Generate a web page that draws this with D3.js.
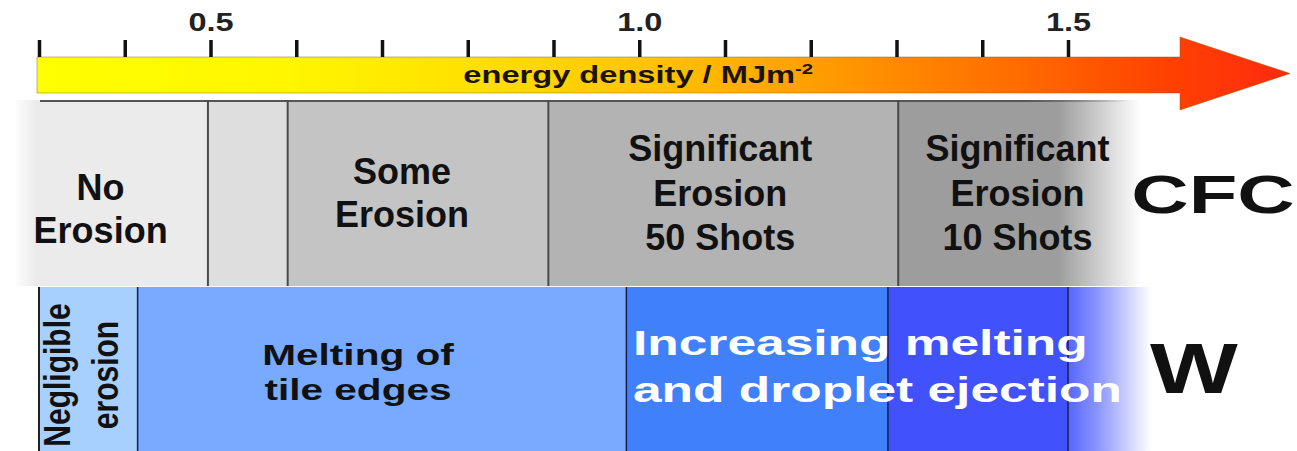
<!DOCTYPE html>
<html>
<head>
<meta charset="utf-8">
<script src="https://cdn.jsdelivr.net/npm/d3@7"></script>
<style>
  body { margin: 0; background: #fff; }
  svg { display: block; font-family: "Liberation Sans", Arial, sans-serif; font-weight: bold; }
</style>
</head>
<body>
<div id="chart"></div>
<script>
// Energy axis
const tickValues = [0.3, 0.4, 0.5, 0.6, 0.7, 0.8, 0.9, 1.0, 1.1, 1.2, 1.3, 1.4, 1.5]
const tickLabels = [0.5, 1.0, 1.5]
const axisTitle = 'energy density / MJm'
const axisTitleSup = '-2'

// CFC row: erosion regimes (energy density ranges)
const cfcStart = [0.27, 0.497, 0.59, 0.894, 1.302]
const cfcEnd = [0.497, 0.59, 0.894, 1.302, 1.585]
const cfcLabels = [
  ['No', 'Erosion'],
  [],
  ['Some', 'Erosion'],
  ['Significant', 'Erosion', '50 Shots'],
  ['Significant', 'Erosion', '10 Shots']
]

// W row: damage regimes
const wStart = [0.3, 0.415, 0.985, 1.29, 1.5]
const wEnd = [0.415, 0.985, 1.29, 1.5, 1.597]
const wLabels = [
  ['Negligible', 'erosion'],
  ['Melting of', 'tile edges'],
  ['Increasing melting', 'and droplet ejection'],
  [],
  []
]

const materials = ['CFC', 'W']

// ---- layout / style (not data) ----
const width = 1297
const height = 451
const cfcColors = ['url(#cfcFirst)', '#dedede', '#c4c4c4', '#b3b3b3', 'url(#cfcLast)']
const wColors = ['#a8d0ff', '#78aaff', '#4180fb', '#4151fc', 'url(#wLast)']
const cfcRow = { top: 100, bottom: 286 }
const wRow = { top: 287, bottom: 451 }

// per-label tweaks: dx, dy nudges, font size, line height, horizontal stretch
const cfcLabelStyle = [
  { dx: -10, dy: 16, size: 36, lh: 43, sx: 1 },
  {},
  { dx: -16, dy: 0, size: 36, lh: 43, sx: 1 },
  { dx: -3, dy: 0, size: 36, lh: 44.5, sx: 1 },
  { dx: -2, dy: 0, size: 36, lh: 44.5, sx: 1 }
]
const wLabelStyle = [
  { rotate: true, cx: 94, cy: 375, size: 30, half: 20, sx: 1.2, fill: '#111' },
  { dx: -24, dy: 3.5, size: 29, lh: 35, sx: 1.4, fill: '#111' },
  { left: 633, dy: -3.5, size: 36, lh: 47, sx: 1.43, fill: '#fff' },
  {},
  {}
]

const x = d3.scaleLinear().domain([0.3, 1.5]).range([39, 1068])

const svg = d3.select('#chart')
  .append('svg')
  .attr('width', width)
  .attr('height', height)

const defs = svg.append('defs')

function addGradient(id, stops, attrs) {
  const g = defs.append('linearGradient').attr('id', id)
  Object.entries(attrs || {}).forEach(([k, v]) => g.attr(k, v))
  stops.forEach(s => {
    g.append('stop').attr('offset', s[0]).attr('stop-color', s[1]).attr('stop-opacity', s[2] == null ? 1 : s[2])
  })
}

addGradient('arrowFill', [
  [0, '#ffff00'], [0.2, '#fff600'], [0.35, '#ffe000'], [0.5, '#ffc200'],
  [0.65, '#ff9500'], [0.78, '#ff6c00'], [0.9, '#ff4200'], [1, '#ff2a10']
], { gradientUnits: 'userSpaceOnUse', x1: 37, x2: 1290, y1: 0, y2: 0 })

addGradient('cfcFirst', [[0, '#ffffff'], [0.12, '#ebebeb'], [1, '#ebebeb']])
addGradient('cfcLast', [[0, '#9d9d9d'], [0.66, '#9d9d9d'], [1, '#ffffff']])
addGradient('wLast', [[0, '#5666ff'], [0.35, '#8a95ff'], [1, '#ffffff']])
addGradient('topLine', [[0, '#555', 1], [0.9, '#555', 1], [1, '#555', 0]],
  { gradientUnits: 'userSpaceOnUse', x1: 40, x2: 1130, y1: 0, y2: 0 })

// ---- energy arrow ----
svg.append('path')
  .attr('d', 'M37,57 H1180 V37 L1290,73.5 L1180,110 V93 H37 Z')
  .attr('fill', 'url(#arrowFill)')
  .attr('stroke', 'rgba(140,90,0,0.45)')
  .attr('stroke-width', 1)

const axis = d3.axisTop(x)
  .tickValues(tickValues)
  .tickSize(17)
  .tickPadding(9)
  .tickFormat(d => tickLabels.includes(d) ? d3.format('.1f')(d) : '')

svg.append('g')
  .attr('transform', 'translate(0,57)')
  .call(axis)
  .attr('font-family', null)
  .attr('font-size', null)
  .call(g => g.select('.domain').remove())
  .call(g => g.selectAll('.tick line').attr('stroke', '#111').attr('stroke-width', 3.5))
  .call(g => g.selectAll('.tick text')
    .attr('y', -26)
    .attr('font-size', 25)
    .attr('fill', '#222')
    .attr('transform', 'scale(1.3,1)'))

const title = svg.append('text')
  .attr('transform', `translate(${x(1.0) - 1},83) scale(1.36,1)`)
  .attr('text-anchor', 'middle')
  .attr('font-size', 24)
  .attr('fill', '#1a1400')
title.append('tspan').text(axisTitle)
title.append('tspan').attr('font-size', 15).attr('dy', -9).text(axisTitleSup)

// ---- CFC row ----
const cfcData = cfcStart.map((s, i) => ({ s, e: cfcEnd[i], lines: cfcLabels[i], fill: cfcColors[i], st: cfcLabelStyle[i] }))

svg.append('g').selectAll('rect')
  .data(cfcData)
  .join('rect')
  .attr('x', d => x(d.s))
  .attr('y', cfcRow.top)
  .attr('width', d => x(d.e) - x(d.s))
  .attr('height', cfcRow.bottom - cfcRow.top)
  .attr('fill', d => d.fill)

svg.append('line')
  .attr('x1', 40).attr('x2', 1130)
  .attr('y1', cfcRow.top + 1).attr('y2', cfcRow.top + 1)
  .attr('stroke', 'url(#topLine)')
  .attr('stroke-width', 2)

svg.append('g').selectAll('line')
  .data(cfcData.slice(1))
  .join('line')
  .attr('x1', d => x(d.s)).attr('x2', d => x(d.s))
  .attr('y1', cfcRow.top).attr('y2', cfcRow.bottom)
  .attr('stroke', '#4a4a4a')
  .attr('stroke-width', 2)

const cfcMid = (cfcRow.top + cfcRow.bottom) / 2
cfcData.filter(d => d.lines.length).forEach(d => {
  const st = d.st
  const cx = (x(d.s) + x(d.e)) / 2 + st.dx
  const first = cfcMid + st.dy - (d.lines.length - 1) * st.lh / 2 + st.size * 0.36
  const t = svg.append('text')
    .attr('transform', `translate(${cx},0) scale(${st.sx},1)`)
    .attr('text-anchor', 'middle')
    .attr('font-size', st.size)
    .attr('fill', '#111')
  d.lines.forEach((line, j) => {
    t.append('tspan').attr('x', 0).attr('y', first + j * st.lh).text(line)
  })
})

// ---- W row ----
const wData = wStart.map((s, i) => ({ s, e: wEnd[i], lines: wLabels[i], fill: wColors[i], st: wLabelStyle[i] }))

svg.append('g').selectAll('rect')
  .data(wData)
  .join('rect')
  .attr('x', d => x(d.s))
  .attr('y', wRow.top)
  .attr('width', d => x(d.e) - x(d.s))
  .attr('height', wRow.bottom - wRow.top)
  .attr('fill', d => d.fill)

svg.append('g').selectAll('line')
  .data(wData)
  .join('line')
  .attr('x1', d => x(d.s)).attr('x2', d => x(d.s))
  .attr('y1', wRow.top).attr('y2', wRow.bottom)
  .attr('stroke', (d, i) => i === 0 ? '#222' : '#1c1c50')
  .attr('stroke-width', (d, i) => i === 0 ? 2 : 1.5)

const wMid = (wRow.top + wRow.bottom) / 2
wData.filter(d => d.lines.length).forEach(d => {
  const st = d.st
  if (st.rotate) {
    const t = svg.append('text')
      .attr('transform', `translate(${st.cx},${st.cy}) scale(${st.sx},1) rotate(-90)`)
      .attr('text-anchor', 'middle')
      .attr('font-size', st.size)
      .attr('fill', st.fill)
    d.lines.forEach((line, j) => {
      t.append('tspan').attr('x', 0).attr('y', j === 0 ? -st.half : st.half).text(line)
    })
    return
  }
  const first = wMid + st.dy - (d.lines.length - 1) * st.lh / 2 + st.size * 0.36
  const ax = st.left != null ? st.left : (x(d.s) + x(d.e)) / 2 + st.dx
  const t = svg.append('text')
    .attr('transform', `translate(${ax},0) scale(${st.sx},1)`)
    .attr('text-anchor', st.left != null ? 'start' : 'middle')
    .attr('font-size', st.size)
    .attr('fill', st.fill)
  d.lines.forEach((line, j) => {
    t.append('tspan').attr('x', 0).attr('y', first + j * st.lh).text(line)
  })
})

// ---- material labels ----
svg.append('text')
  .attr('transform', `translate(1213,213) scale(1.5,1)`)
  .attr('text-anchor', 'middle')
  .attr('font-size', 53)
  .attr('fill', '#111')
  .text(materials[0])

svg.append('text')
  .attr('transform', `translate(1194,393) scale(1.31,1)`)
  .attr('text-anchor', 'middle')
  .attr('font-size', 71)
  .attr('fill', '#111')
  .text(materials[1])
</script>
</body>
</html>
